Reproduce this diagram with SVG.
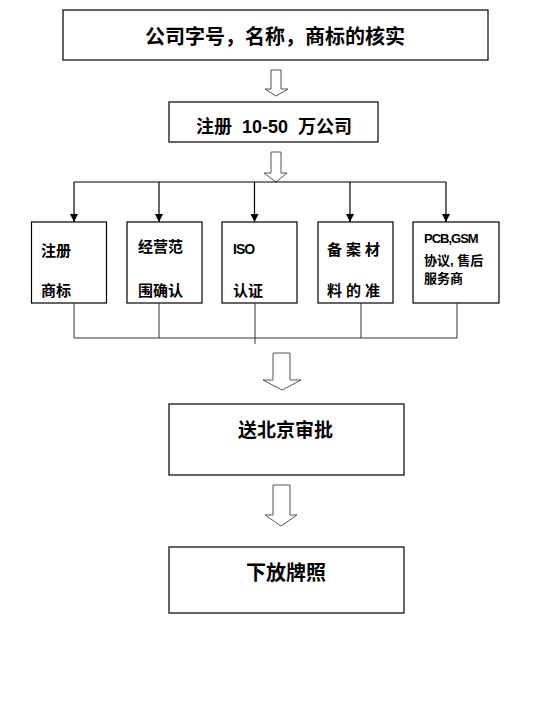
<svg xmlns="http://www.w3.org/2000/svg" width="552" height="708" viewBox="0 0 552 708">
<defs>
<style>
.box{fill:#fff;stroke:#000;stroke-width:1.2}
.t{font-family:"Liberation Serif","Noto Sans CJK SC",serif;font-weight:bold;fill:#000;dominant-baseline:central}
.s{font-family:"Liberation Sans","Noto Sans CJK SC",sans-serif;font-weight:bold;fill:#000;dominant-baseline:central}
.ln{fill:none;stroke:#000;stroke-width:1.2}
.ln2{fill:none;stroke:#333;stroke-width:1}
.ha{fill:#fff;stroke:#555;stroke-width:1}
</style>
<marker id="tri" viewBox="0 0 10 10" refX="10" refY="5" markerWidth="8" markerHeight="8" markerUnits="userSpaceOnUse" orient="auto">
<path d="M0,0 L10,5 L0,10 Z" fill="#000"/>
</marker>
</defs>
<rect width="552" height="708" fill="#fff"/>

<g id="n1">
<rect class="box" x="63" y="10" width="425" height="50"/>
<text class="t" x="275" y="37" font-size="20" text-anchor="middle">公司字号，名称，商标的核实</text>
</g>
<g id="n2">
<rect class="box" x="169" y="102" width="209" height="40"/>
<text class="s" x="274" y="127" font-size="18" text-anchor="middle" xml:space="preserve">注册  10-50  万公司</text>
</g>
<g id="b1">
<rect class="box" x="31.500" y="222" width="75" height="81"/>
<text class="s" x="41" y="250" font-size="15">注册</text>
<text class="s" x="41" y="290" font-size="15">商标</text>
</g>
<g id="b2">
<rect class="box" x="127" y="222" width="75" height="81"/>
<text class="s" x="138" y="246" font-size="15">经营范</text>
<text class="s" x="138" y="290" font-size="15">围确认</text>
</g>
<g id="b3">
<rect class="box" x="222" y="222" width="75" height="81"/>
<text class="s" x="233" y="249" font-size="14" letter-spacing="-1">ISO</text>
<text class="s" x="233" y="290" font-size="15">认证</text>
</g>
<g id="b4">
<rect class="box" x="318" y="222" width="75" height="81"/>
<text class="s" x="327" y="249" font-size="15" letter-spacing="4">备案材</text>
<text class="s" x="327" y="290" font-size="15" letter-spacing="4">料的准</text>
</g>
<g id="b5">
<rect class="box" x="413" y="222" width="86" height="81"/>
<text class="s" x="424" y="238" font-size="13" letter-spacing="-1">PCB,GSM</text>
<text class="s" x="424" y="260" font-size="13">协议, 售后</text>
<text class="s" x="424" y="278" font-size="13">服务商</text>
</g>
<g id="n3">
<rect class="box" x="169" y="404" width="235" height="71"/>
<text class="t" x="285.500" y="430" font-size="19" text-anchor="middle">送北京审批</text>
</g>
<g id="n4">
<rect class="box" x="169" y="547" width="235" height="66"/>
<text class="t" x="286" y="573" font-size="20" text-anchor="middle">下放牌照</text>
</g>

<g id="connectors">
<path class="ha" d="M271,70 H281 V89 H288 L276,96 L265,89 H271 Z"/>
<path class="ha" d="M271,152 H281 V173 H287 L276,182 L264,173 H271 Z"/>
<path class="ln" d="M74,182 H446"/>
<path class="ln" d="M74,182 V222" marker-end="url(#tri)"/>
<path class="ln" d="M159,182 V222" marker-end="url(#tri)"/>
<path class="ln" d="M254.500,182 V222" marker-end="url(#tri)"/>
<path class="ln" d="M350,182 V222" marker-end="url(#tri)"/>
<path class="ln" d="M446,182 V222" marker-end="url(#tri)"/>
<path class="ln2" d="M74,303 V338 H457 V303"/>
<path class="ln2" d="M159,303 V338"/>
<path class="ln2" d="M255,303 V344"/>
<path class="ln2" d="M361,303 V338"/>
<path class="ha" d="M273,353 H290 V380 H301 L282,390 L263,380 H273 Z"/>
<path class="ha" d="M273,485 H290 V515 H297 L281,526 L265,515 H273 Z"/>
</g>
</svg>
